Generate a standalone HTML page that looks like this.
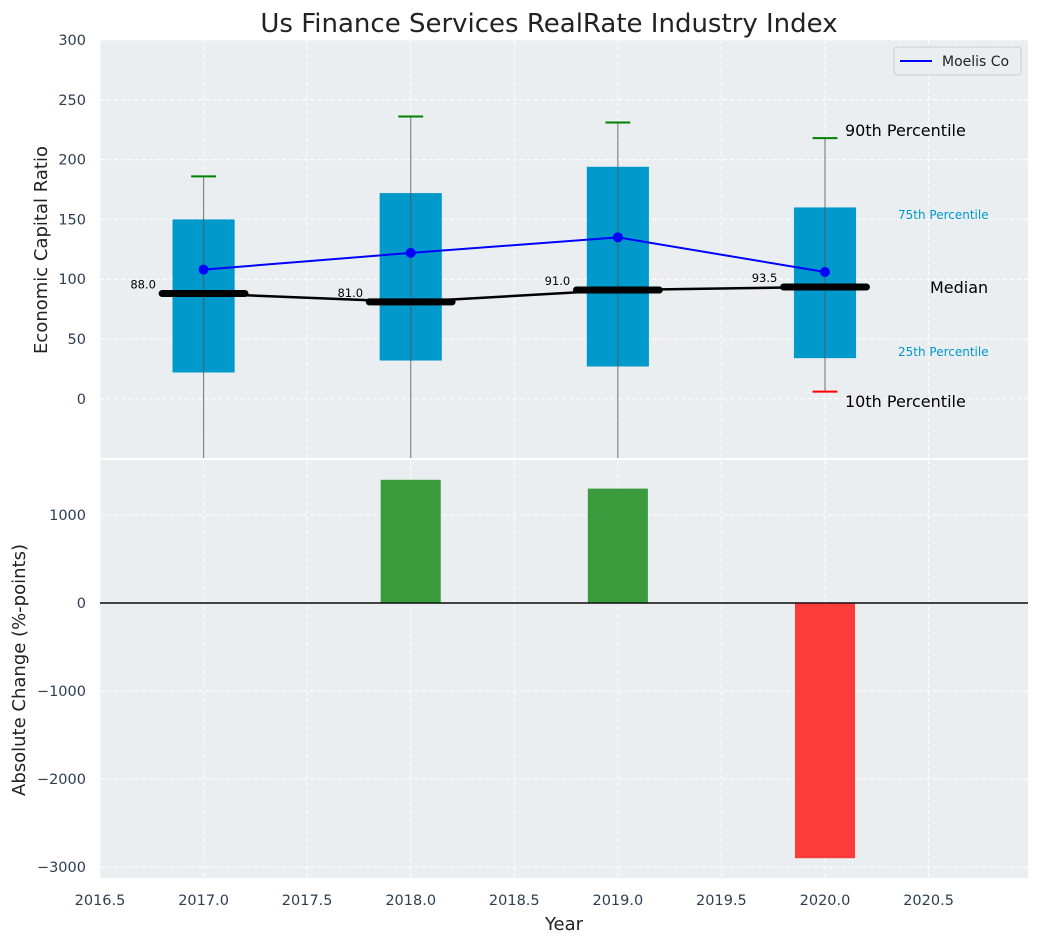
<!DOCTYPE html>
<html><head><meta charset="utf-8"><style>
body{margin:0;background:#fff;font-family:"Liberation Sans","DejaVu Sans",sans-serif}
svg text{font-family:"DejaVu Sans","Liberation Sans",sans-serif}
</style></head><body>
<svg id="c" width="1039" height="942" xmlns="http://www.w3.org/2000/svg"></svg>
<script>
const years=[2017,2018,2019,2020];
const p25=[22,32,27,34];
const p75=[150,172,194,160];
const p90=[186,236,231,218];
const p10=[-60,-60,-60,6];
const medians=[88,81,91,93.5];
const moelis=[108,122,135,106];
const changes=[0,1400,1300,-2900];
const xTicks=[2016.5,2017,2017.5,2018,2018.5,2019,2019.5,2020,2020.5];
const yTicksTop=[0,50,100,150,200,250,300];
const yTicksBot=[-3000,-2000,-1000,0,1000];

const svg=document.getElementById('c');
const NS='http://www.w3.org/2000/svg';
function el(t,a,p){const e=document.createElementNS(NS,t);for(const k in a)e.setAttribute(k,a[k]);(p||svg).appendChild(e);return e;}
const L=100,R=1028;
const x=v=>L+(v-2016.5)*(R-L)/(2020.98-2016.5);
const T1=40,B1=458,yt=v=>T1+(300-v)*(B1-T1)/(300+49.5);
const T2=460,B2=878,yb=v=>T2+(1625-v)*(B2-T2)/(1625+3125);
const clip=el('clipPath',{id:'cp1'});el('rect',{x:L,y:T1,width:R-L,height:B1-T1},clip);

let e=el('rect',{x:L,y:T1,width:R-L,height:B1-T1,fill:'#eaeef0'});

e=el('rect',{x:L,y:T2,width:R-L,height:B2-T2,fill:'#eaeef0'});

xTicks.forEach(v=>{
 el('line',{x1:x(v),x2:x(v),y1:T1,y2:B1,stroke:'#fff','stroke-dasharray':'4,3','stroke-width':1});
 el('line',{x1:x(v),x2:x(v),y1:T2,y2:B2,stroke:'#fff','stroke-dasharray':'4,3','stroke-width':1});
 e=el('text',{x:x(v),y:905,'text-anchor':'middle','font-size':14.5,fill:'#2c3e50'});e.textContent=v.toFixed(1);
 
});
yTicksTop.forEach(v=>{
 el('line',{x1:L,x2:R,y1:yt(v),y2:yt(v),stroke:'#fff','stroke-dasharray':'4,3'});
 e=el('text',{x:86,y:yt(v)+5,'text-anchor':'end','font-size':14.5,fill:'#2c3e50'});e.textContent=v;
 
});
yTicksBot.forEach(v=>{
 el('line',{x1:L,x2:R,y1:yb(v),y2:yb(v),stroke:'#fff','stroke-dasharray':'4,3'});
 e=el('text',{x:86,y:yb(v)+5,'text-anchor':'end','font-size':14.5,fill:'#2c3e50'});e.textContent=v<0?'\u2212'+(-v):v;
 
});
const g=el('g',{'clip-path':'url(#cp1)'});
years.forEach((yr,i)=>{
 e=el('rect',{x:x(yr-0.15),y:yt(p75[i]),width:x(yr+0.15)-x(yr-0.15),height:yt(p25[i])-yt(p75[i]),fill:'#0099cc'},g);
 
 e=el('line',{x1:x(yr),x2:x(yr),y1:yt(p90[i]),y2:yt(p10[i]),stroke:'#555','stroke-opacity':0.7,'stroke-width':1.2},g);
 
 e=el('line',{x1:x(yr-0.06),x2:x(yr+0.06),y1:yt(p90[i]),y2:yt(p90[i]),stroke:'green','stroke-width':2},g);
 
 e=el('line',{x1:x(yr-0.06),x2:x(yr+0.06),y1:yt(p10[i]),y2:yt(p10[i]),stroke:'red','stroke-width':2},g);
 
});
e=el('polyline',{points:years.map((y,i)=>x(y)+','+yt(medians[i])).join(' '),fill:'none',stroke:'#000','stroke-width':2.5},g);

years.forEach((yr,i)=>{
 e=el('line',{x1:x(yr-0.2),x2:x(yr+0.2),y1:yt(medians[i]),y2:yt(medians[i]),stroke:'#000','stroke-width':7,'stroke-linecap':'round'},g);
 
 e=el('text',{x:x(yr-0.23),y:yt(medians[i])-5,'text-anchor':'end','font-size':11.5,fill:'#000'});e.textContent=medians[i].toFixed(1);
 
});
e=el('polyline',{points:years.map((y,i)=>x(y)+','+yt(moelis[i])).join(' '),fill:'none',stroke:'blue','stroke-width':2},g);

years.forEach((yr,i)=>{e=el('circle',{cx:x(yr),cy:yt(moelis[i]),r:5,fill:'blue'},g);
 });
[['90th Percentile',845,136,16,'#000'],['75th Percentile',898,219,12,'#0099cc'],['Median',930,293,16,'#000'],['25th Percentile',898,356,12,'#0099cc'],['10th Percentile',845,407,16,'#000']].forEach(a=>{
 e=el('text',{x:a[1],y:a[2],'font-size':a[3],fill:a[4]});e.textContent=a[0];
 
});
const lg=el('g',{});
el('rect',{x:894,y:47,width:127,height:28,rx:3,fill:'#eaeef0',stroke:'#ccc'},lg);
el('line',{x1:900,x2:932,y1:61,y2:61,stroke:'blue','stroke-width':2},lg);
e=el('text',{x:942,y:66,'font-size':14,fill:'#222'},lg);e.textContent='Moelis Co';
el('line',{x1:L,x2:R,y1:yb(0),y2:yb(0),stroke:'#000','stroke-width':1.2});
years.forEach((yr,i)=>{
 const v=changes[i];if(v===0)return;
 e=el('rect',{x:x(yr-0.145),y:Math.min(yb(v),yb(0)),width:x(yr+0.145)-x(yr-0.145),height:Math.abs(yb(v)-yb(0)),fill:v>0?'#3a9b3c':'#fc3b3b'});
 
});
el('line',{x1:L,x2:R,y1:yb(0),y2:yb(0),stroke:'#000','stroke-width':1.2});
e=el('text',{x:549,y:32,'text-anchor':'middle','font-size':26,fill:'#222'});e.textContent='Us Finance Services RealRate Industry Index';

e=el('text',{x:564,y:930,'text-anchor':'middle','font-size':18,fill:'#222'});e.textContent='Year';

e=el('text',{x:0,y:0,'text-anchor':'middle','font-size':18,fill:'#222',transform:'translate(47,250) rotate(-90)'});e.textContent='Economic Capital Ratio';

e=el('text',{x:0,y:0,'text-anchor':'middle','font-size':18,fill:'#222',transform:'translate(25,670) rotate(-90)'});e.textContent='Absolute Change (%-points)';

</script>
</body></html>
